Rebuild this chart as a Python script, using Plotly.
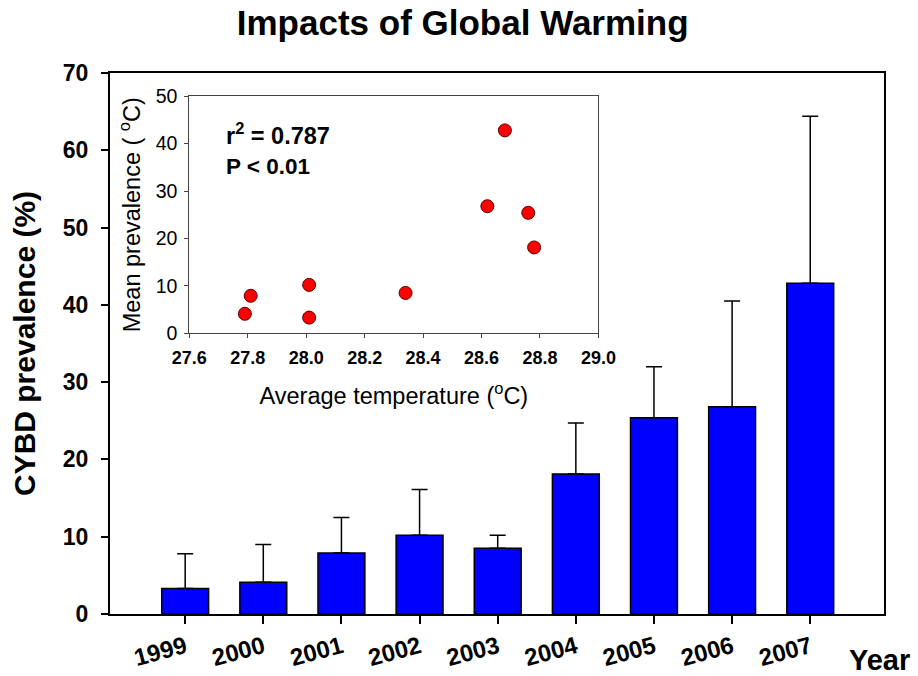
import plotly.graph_objects as go

# CYBD prevalence per survey year (mean with upper standard error)
years = ["1999", "2000", "2001", "2002", "2003", "2004", "2005", "2006", "2007"]
mean_prevalence = [3.3, 4.1, 7.9, 10.2, 8.5, 18.1, 25.4, 26.8, 42.8]
upper_error = [4.5, 4.9, 4.6, 5.9, 1.7, 6.6, 6.6, 13.7, 21.6]

# Average sea temperature for the same years
avg_temperature = [28.01, 27.79, 27.81, 28.01, 28.34, 28.78, 28.76, 28.62, 28.68]

FONT = "Liberation Sans, Arial, sans-serif"

fig = go.Figure()

fig.add_trace(go.Bar(
    x=years,
    y=mean_prevalence,
    width=0.6,
    marker=dict(color="#0000FF", line=dict(color="black", width=1.5)),
    error_y=dict(type="data", array=upper_error, arrayminus=[0] * len(years),
                 symmetric=False, color="black", thickness=1.5, width=8),
    xaxis="x", yaxis="y",
    showlegend=False,
))

fig.add_trace(go.Scatter(
    x=avg_temperature,
    y=mean_prevalence,
    mode="markers",
    marker=dict(size=13, color="#FF0000", line=dict(color="#5a0000", width=1)),
    xaxis="x2", yaxis="y2",
    showlegend=False,
))

fig.update_layout(
    width=918, height=676,
    margin=dict(l=110, r=34, t=73, b=62),
    paper_bgcolor="white", plot_bgcolor="white",
    font=dict(family=FONT, color="black"),
    title=dict(text="<b>Impacts of Global Warming</b>", x=0.504, xanchor="center",
               y=0.967, yanchor="middle", font=dict(size=35, family=FONT)),
    xaxis=dict(
        type="category", range=[-0.962, 8.944], automargin=False,
        showline=True, linecolor="black", linewidth=2, mirror=True,
        ticks="outside", ticklen=8, tickwidth=1.5, tickcolor="black",
        tickangle=-15, tickfont=dict(size=24, family=FONT, weight="bold"),
        showgrid=False, zeroline=False,
    ),
    yaxis=dict(
        range=[0, 70], dtick=10, automargin=False,
        showline=True, linecolor="black", linewidth=2, mirror=True,
        ticks="outside", ticklen=7, tickwidth=1.5, tickcolor="black",
        tickfont=dict(size=23, family=FONT, weight="bold"),
        ticklabelstandoff=8,
        title=dict(text="<b>CYBD prevalence (%)</b>", font=dict(size=30, family=FONT),
                   standoff=18),
        showgrid=False, zeroline=False,
    ),
    xaxis2=dict(
        domain=[0.1025, 0.631], anchor="y2", automargin=False,
        range=[27.6, 29.0], dtick=0.2, tickformat=".1f",
        showline=True, linecolor="#444", linewidth=1, mirror=True,
        ticks="outside", ticklen=4, tickcolor="#444",
        tickfont=dict(size=18, family=FONT, weight="bold"),
        ticklabelstandoff=4,
        title=dict(text="Average temperature (<sup>o</sup>C)", font=dict(size=23.5, family=FONT),
                   standoff=20),
        showgrid=False, zeroline=False,
    ),
    yaxis2=dict(
        domain=[0.519, 0.957], anchor="x2", automargin=False,
        range=[0, 50], dtick=10,
        showline=True, linecolor="#444", linewidth=1, mirror=True,
        ticks="outside", ticklen=4, tickcolor="#444",
        tickfont=dict(size=19.5, family=FONT),
        ticklabelstandoff=3,
        title=dict(text="Mean prevalence ( <sup>o</sup>C)", font=dict(size=23.5, family=FONT),
                   standoff=8),
        showgrid=False, zeroline=False,
    ),
    annotations=[
        dict(text="<b>r<sup>2</sup> = 0.787</b>", xref="x2 domain", yref="y2 domain",
             x=0.085, y=0.84, xanchor="left", yanchor="middle", showarrow=False,
             font=dict(size=23.5, family=FONT)),
        dict(text="<b>P < 0.01</b>", xref="x2 domain", yref="y2 domain",
             x=0.085, y=0.705, xanchor="left", yanchor="middle", showarrow=False,
             font=dict(size=22.5, family=FONT)),
        dict(text="<b>Year</b>", xref="paper", yref="paper",
             x=1.036, y=-0.085, xanchor="right", yanchor="middle", showarrow=False,
             font=dict(size=29, family=FONT)),
    ],
)

fig.write_html("out.html")
